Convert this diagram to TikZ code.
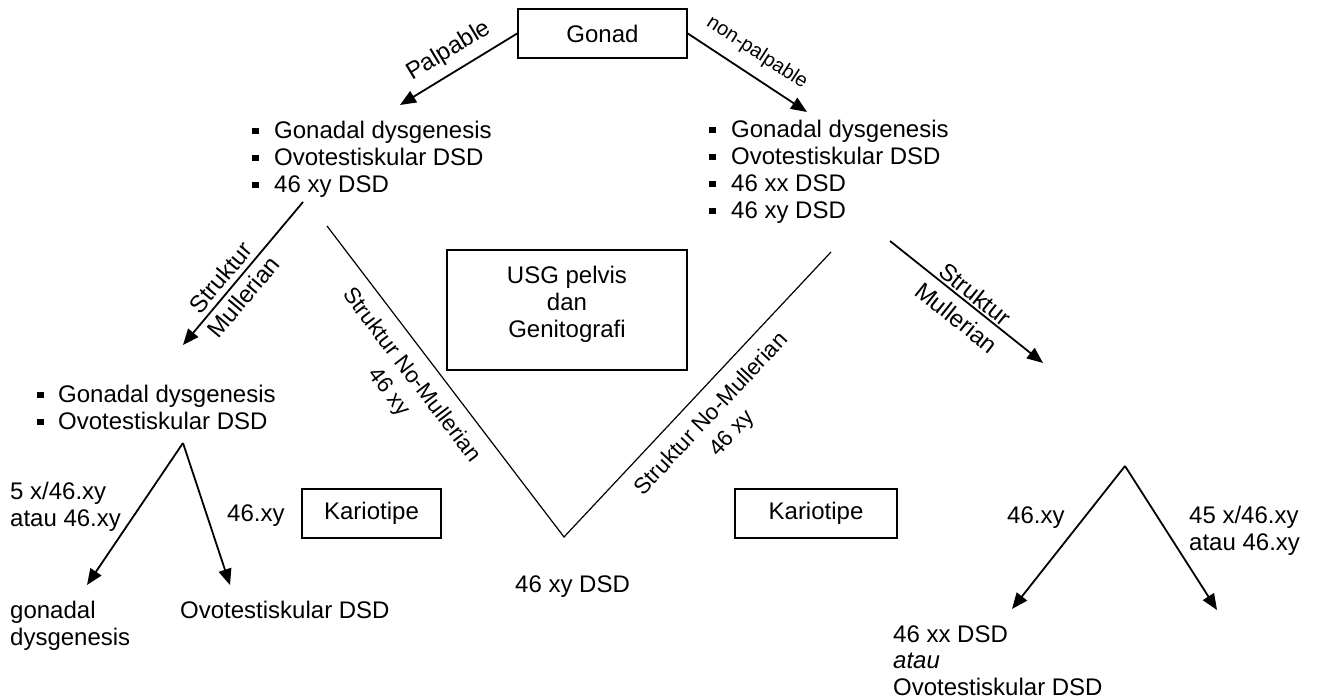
\documentclass[tikz,border=0pt]{standalone}
\usepackage{fontspec}
\setmainfont{Liberation Sans}
\usetikzlibrary{arrows.meta}
\newcommand\bul{\makebox[22pt][l]{\rule[4pt]{6.5pt}{6.5pt}}}
\newcommand\bulb{\makebox[21pt][l]{\rule[4pt]{6.5pt}{6.5pt}}}
\begin{document}
\begin{tikzpicture}[x=1pt,y=-1pt,
  font=\fontsize{24}{27}\selectfont,
  box/.style={draw, line width=1.6pt, inner sep=0pt},
  txt/.style={inner sep=0pt, align=left, anchor=base west},
  lbl/.style={inner sep=0pt, align=center, anchor=center},
  arr/.style={line width=1.8pt, -{Triangle[length=16pt,width=13pt]}},
  thinline/.style={line width=1.2pt}]
\useasboundingbox (0,0) rectangle (1330,698);

% boxes
\node[box, minimum width=169pt, minimum height=49pt] (gonad) at (602.5,33.5) {Gonad};
\node[box, minimum width=240pt, minimum height=120pt] (usg) at (567,310) {};
\node[lbl] (usgtxt) at (567,304) {USG pelvis\\dan\\Genitografi};
\node[box, minimum width=139pt, minimum height=49pt] (kar1) at (371.5,513.5) {Kariotipe};
\node[box, minimum width=162pt, minimum height=49pt] (kar2) at (816,513.5) {Kariotipe};

% lists (base anchor = baseline of the last line)
\node[txt] (l1) at (252,192) {\bul Gonadal dysgenesis\\\bul Ovotestiskular DSD\\\bul 46 xy DSD};
\node[txt] (r1) at (709,218) {\bul Gonadal dysgenesis\\\bul Ovotestiskular DSD\\\bul 46 xx DSD\\\bul 46 xy DSD};
\node[txt] (l2) at (37,429) {\bulb Gonadal dysgenesis\\\bulb Ovotestiskular DSD};

% plain texts
\node[txt] (k1) at (10,526) {5 x/46.xy\\atau 46.xy};
\node[txt] (k2) at (227,521) {46.xy};
\node[txt] (gd) at (10,645) {gonadal\\dysgenesis};
\node[txt] (ov) at (180,618) {Ovotestiskular DSD};
\node[txt] (xy) at (515,592) {46 xy DSD};
\node[txt] (k3) at (1007,523) {46.xy};
\node[txt] (k4) at (1189,550) {45 x/46.xy\\atau 46.xy};
\node[txt, font=\fontsize{24}{26.5}\selectfont] (res) at (893,695) {46 xx DSD\\\textit{atau}\\Ovotestiskular DSD};

% coordinates
\coordinate (tipP) at (400,105);
\coordinate (tipN) at (807,112);
\coordinate (sL) at (303,202);
\coordinate (tipSL) at (183,345);
\coordinate (apL) at (183,443);
\coordinate (tipA) at (87,585);
\coordinate (tipB) at (230,585);
\coordinate (vL) at (327,226);
\coordinate (vB) at (564,537);
\coordinate (vR) at (831,252);
\coordinate (sR) at (890,241);
\coordinate (tipSR) at (1043,363);
\coordinate (apR) at (1125,466);
\coordinate (tipC) at (1012,609);
\coordinate (tipD) at (1217,610);

% connectors
\draw[arr] (gonad.west) -- (tipP);
\draw[arr] (gonad.east) -- (tipN);
\draw[arr] (sL) -- (tipSL);
\draw[arr] (apL) -- (tipA);
\draw[arr] (apL) -- (tipB);
\draw[thinline] (vL) -- (vB) -- (vR);
\draw[arr] (sR) -- (tipSR);
\draw[arr] (apR) -- (tipC);
\draw[arr] (apR) -- (tipD);

% rotated labels
\node[lbl, rotate=31] (palp) at (449,51) {Palpable};
\node[lbl, rotate=-33, font=\fontsize{20}{24}\selectfont] (npalp) at (757,53) {non-palpable};
\node[lbl, rotate=50] (smL) at (232,287) {Struktur\\[3pt]Mullerian};
\node[lbl, rotate=-38.6] (smR) at (966,306) {Struktur\\[3pt]Mullerian};
\node[lbl, rotate=-52.7, font=\fontsize{22.5}{28}\selectfont] (nmL) at (400,384) {Struktur No-Mullerian\\46 xy};
\node[lbl, rotate=46.9, font=\fontsize{22.5}{28}\selectfont] (nmR) at (722,424) {Struktur No-Mullerian\\46 xy};
\end{tikzpicture}
\end{document}
